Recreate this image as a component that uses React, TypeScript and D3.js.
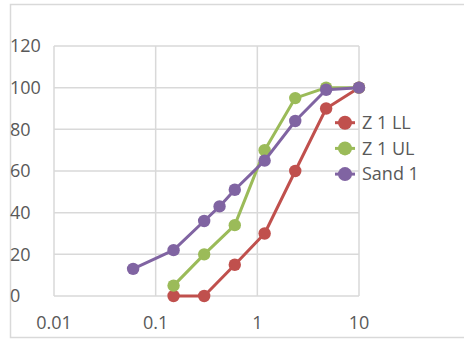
import React from "react";
import * as d3 from "d3";

// Sieve sizes (mm) and percent passing for each series
const sandSizes = [0.06, 0.15, 0.3, 0.425, 0.6, 1.18, 2.36, 4.75, 10];
const sandValues = [13, 22, 36, 43, 51, 65, 84, 99, 100];

const ulSizes = [0.15, 0.3, 0.6, 1.18, 2.36, 4.75, 10];
const ulValues = [5, 20, 34, 70, 95, 100, 100];

const llSizes = [0.15, 0.3, 0.6, 1.18, 2.36, 4.75, 10];
const llValues = [0, 0, 15, 30, 60, 90, 100];

const seriesNames = ["Z 1 LL", "Z 1 UL", "Sand 1"];
const seriesColors = ["#C0504D", "#9BBB59", "#8064A2"];

const xTicks = [0.01, 0.1, 1, 10];
const xTickLabels = ["0.01", "0.1", "1", "10"];
const yTicks = [0, 20, 40, 60, 80, 100, 120];

const W = 464;
const H = 340;
const plot = { left: 54, right: 359, top: 46, bottom: 296 };

export default function App() {
  const x = d3.scaleLog().domain([0.01, 10]).range([plot.left, plot.right]);
  const y = d3.scaleLinear().domain([0, 120]).range([plot.bottom, plot.top]);

  const series = [
    { sizes: llSizes, values: llValues },
    { sizes: ulSizes, values: ulValues },
    { sizes: sandSizes, values: sandValues },
  ];

  const line = d3
    .line<[number, number]>()
    .x((d) => x(d[0]))
    .y((d) => y(d[1]));

  const font = "'Open Sans', sans-serif";
  const fontSize = 18;
  const textColor = "#595959";
  const gridColor = "#D9D9D9";

  return (
    <svg
      width={W}
      height={H}
      style={{ position: "absolute", left: 0, top: 0, background: "#fff" }}
    >
      {/* chart frame */}
      <path
        d={`M${W + 5},4.5 H10.5 V337.5 H${W + 5}`}
        fill="none"
        stroke={gridColor}
        strokeWidth={1.5}
      />

      {/* horizontal gridlines */}
      {yTicks.map((t) => (
        <line
          key={"h" + t}
          x1={plot.left}
          x2={plot.right}
          y1={y(t)}
          y2={y(t)}
          stroke={gridColor}
          strokeWidth={1.5}
        />
      ))}
      {/* vertical gridlines */}
      {xTicks.map((t) => (
        <line
          key={"v" + t}
          x1={x(t)}
          x2={x(t)}
          y1={plot.top}
          y2={plot.bottom}
          stroke={gridColor}
          strokeWidth={1.5}
        />
      ))}

      {/* y tick labels */}
      {yTicks.map((t) => (
        <text
          key={"yl" + t}
          x={10}
          y={y(t)}
          dy="0.35em"
          fontFamily={font}
          fontSize={fontSize}
          fill={textColor}
        >
          {t}
        </text>
      ))}

      {/* x tick labels */}
      {xTicks.map((t, i) => (
        <text
          key={"xl" + t}
          x={x(t)}
          y={323}
          dy="0.35em"
          textAnchor="middle"
          fontFamily={font}
          fontSize={fontSize}
          fill={textColor}
        >
          {xTickLabels[i]}
        </text>
      ))}

      {/* series */}
      {series.map((s, i) => {
        const pts = s.sizes.map((v, j) => [v, s.values[j]] as [number, number]);
        return (
          <g key={"s" + i}>
            <path
              d={line(pts) || ""}
              fill="none"
              stroke={seriesColors[i]}
              strokeWidth={3}
              strokeLinejoin="round"
            />
            {pts.map((p, j) => (
              <circle
                key={j}
                cx={x(p[0])}
                cy={y(p[1])}
                r={6.2}
                fill={seriesColors[i]}
              />
            ))}
          </g>
        );
      })}

      {/* legend */}
      {seriesNames.map((name, i) => {
        const cy = 122.7 + i * 25.7;
        return (
          <g key={"lg" + i}>
            <line
              x1={335}
              x2={355}
              y1={cy}
              y2={cy}
              stroke={seriesColors[i]}
              strokeWidth={3}
            />
            <circle cx={345} cy={cy} r={7} fill={seriesColors[i]} />
            <text
              x={362}
              y={cy}
              dy="0.35em"
              fontFamily={font}
              fontSize={fontSize}
              fill={textColor}
            >
              {name}
            </text>
          </g>
        );
      })}
    </svg>
  );
}
